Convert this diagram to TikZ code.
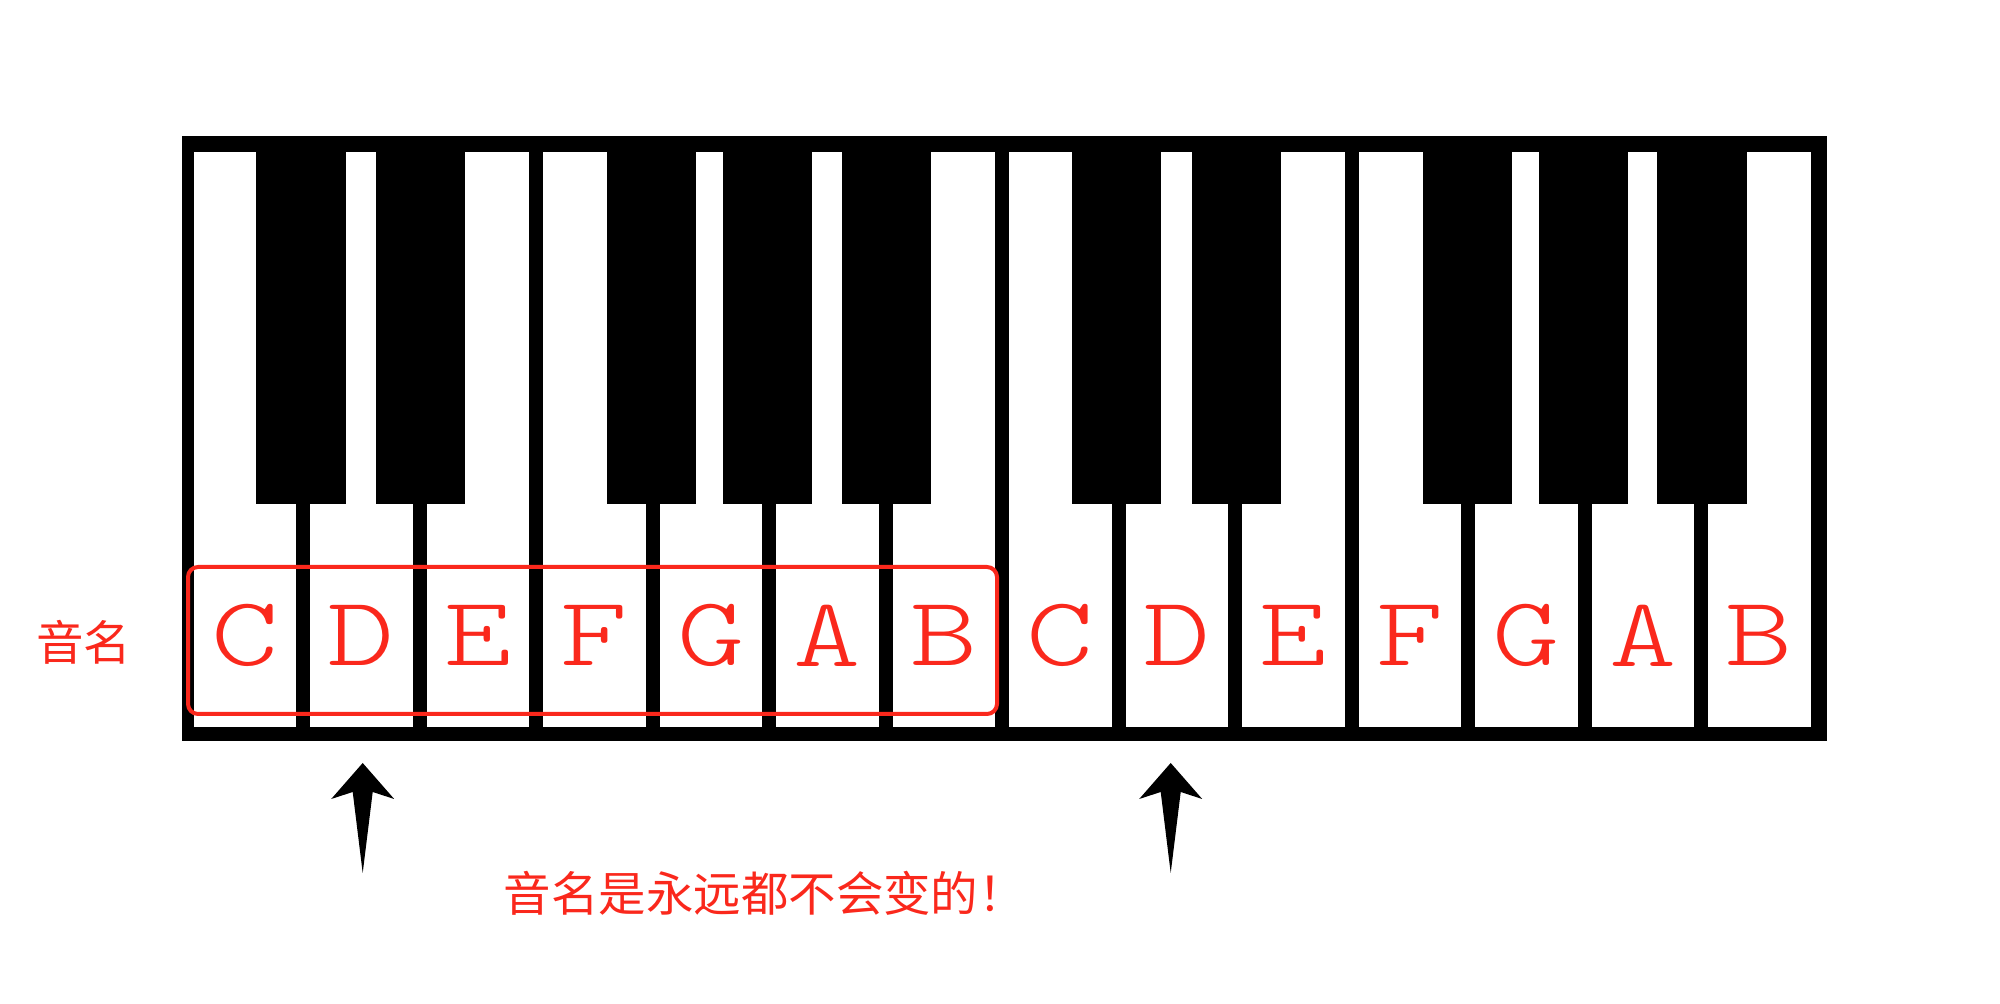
\documentclass[tikz,border=0pt]{standalone}
\usepackage{fontspec}
\newfontfamily\cjkfont{Noto Sans CJK SC}
\newfontfamily\notefont{lmmonolt10-regular.otf}[FakeStretch=1.3]
\definecolor{notered}{RGB}{250,40,28}

\begin{document}
\begin{tikzpicture}[x=0.01cm, y=-0.01cm,
  whitekey/.style={fill=white},
  blackkey/.style={fill=black},
  notename/.style={text=notered, inner sep=0, font=\notefont\fontsize{28}{28}\selectfont},
  cjklabel/.style={text=notered, inner sep=0, font=\cjkfont\fontsize{13.5}{13.5}\selectfont}]

  \useasboundingbox (0,0) rectangle (2000,1004);

  % keyboard frame
  \fill[black] (182,136) rectangle (1827,741);

  % white keys with their names, two octaves
  \foreach \n [count=\i from 0] in
    {
        C,D,E,F,G,A,B,C,D,E,F,G,A,B
    }
    {
        \fill[whitekey] ({193.7+\i*116.5}, 152) rectangle ({296.2+\i*116.5}, 727);
        \node[notename] (key\i) at ({245+\i*116.5}, 635.5) {\n};
    }

  % black keys
  \foreach \o in {0,1}
    \foreach \b in {62.5,182.4,413.3,529.3,648}
    {
        \fill[blackkey] ({193.7+\o*815.5+\b}, 136) rectangle ({283+\o*815.5+\b}, 504);
    }

  % the first octave, framed
  \draw[notered, line width=0.04cm, rounded corners=0.1cm]
  (188, 567) rectangle (997, 714);
  \node[cjklabel] (label) at (83.5, 642.5) {音名};

  % arrows up to both D keys
  \coordinate (tipA) at (362.7, 763);
  \coordinate (tipB) at (1170.7, 763);
  \foreach \t in {tipA,tipB}
    {
        \fill[black] (\t) -- ++(31.5,36) -- ++(-21.5,-7) -- ++(-10,81)
        -- ++(-10,-81) -- ++(-21.5,7) -- cycle;
    }
  \node[cjklabel, anchor=west] (remark) at (503, 893) {音名是永远都不会变的！};

\end{tikzpicture}
\end{document}
